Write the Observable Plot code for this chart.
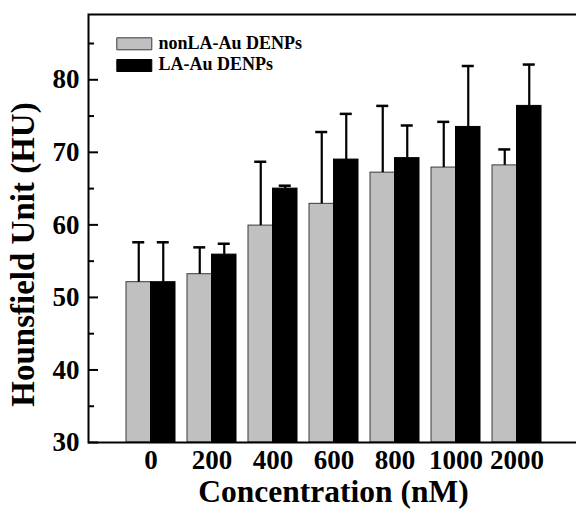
<!DOCTYPE html>
<html><head><meta charset="utf-8">
<script src="https://cdn.jsdelivr.net/npm/d3@7"></script>
<script src="https://cdn.jsdelivr.net/npm/@observablehq/plot@0.6"></script>
<style>body{margin:0;background:#fff}</style>
</head><body><div id="chart"></div>
<script>
// ---- data ----
const categories = ["0", "200", "400", "600", "800", "1000", "2000"];
const seriesNames = ["nonLA-Au DENPs", "LA-Au DENPs"];
const nonLA    = [52.1, 53.2, 59.9, 62.9, 67.2, 67.9, 68.2];
const nonLAErr = [5.5, 3.7, 8.8, 9.9, 9.2, 6.3, 2.2];
const LA       = [52.1, 55.9, 65.0, 69.0, 69.2, 73.5, 76.4];
const LAErr    = [5.5, 1.5, 0.4, 6.3, 4.5, 8.4, 5.7];
const yDomain = [30, 89];
const majorTicks = [30, 40, 50, 60, 70, 80];
const minorTicks = [35, 45, 55, 65, 75, 85];
const xLabel = "Concentration (nM)";
const yLabel = "Hounsfield Unit (HU)";
const colors = ["#c0c0c0", "#000000"];

// ---- layout / style ----
const font = "'Liberation Serif','Times New Roman',serif";
const W = 576, H = 510, mL = 88, mR = -2, mT = 14, mB = 68;
const plotW = W - mL - mR;
const pInner = 0.2, pOuter = 0.6;
const step = plotW / (categories.length - pInner + 2 * pOuter);
const bw = step * (1 - pInner);
const half = bw / 2, q = bw / 4, capHalf = 6;

const rows = categories.map((c, i) => ({c, v1: nonLA[i], e1: nonLAErr[i], v2: LA[i], e2: LAErr[i]}));

const swatch = {draw(ctx) { ctx.moveTo(-17.5, -6); ctx.lineTo(17.5, -6); ctx.lineTo(17.5, 6); ctx.lineTo(-17.5, 6); ctx.closePath(); }};

const legendMarks = seriesNames.flatMap((name, i) => [
  Plot.dot([name], {x: null, y: null, frameAnchor: "top-left", dx: 45.8, dy: 29.3 + i * 21.7,
    symbol: swatch, r: 5, fill: colors[i], stroke: i === 0 ? "#3a3a3a" : "#000", strokeWidth: 1}),
  Plot.text([name], {x: null, y: null, text: d => d, frameAnchor: "top-left", dx: 70, dy: 28.5 + i * 21.7,
    textAnchor: "start", lineAnchor: "middle", fontSize: 18, fontWeight: "bold", fill: "#000"})
]);

const chart = Plot.plot({
  width: W, height: H,
  marginLeft: mL, marginRight: mR, marginTop: mT, marginBottom: mB,
  style: {fontFamily: font, fontWeight: "bold", color: "#000", background: "#fff"},
  x: {type: "band", domain: categories, paddingInner: pInner, paddingOuter: pOuter, align: 0.5},
  y: {domain: yDomain},
  marks: [
    Plot.barY(rows, {x: "c", y1: yDomain[0], y2: "v1", fill: colors[0], stroke: "#3a3a3a", strokeWidth: 1, insetRight: half}),
    Plot.barY(rows, {x: "c", y1: yDomain[0], y2: "v2", fill: colors[1], stroke: "#000", strokeWidth: 1, insetLeft: half}),
    Plot.ruleX(rows, {x: "c", y1: "v1", y2: d => d.v1 + d.e1, dx: -q, stroke: "#000", strokeWidth: 2.2}),
    Plot.ruleX(rows, {x: "c", y1: "v2", y2: d => d.v2 + d.e2, dx: q, stroke: "#000", strokeWidth: 2.2}),
    Plot.tickY(rows, {x: "c", y: d => d.v1 + d.e1, insetLeft: q - capHalf, insetRight: bw - q - capHalf, stroke: "#000", strokeWidth: 2.5}),
    Plot.tickY(rows, {x: "c", y: d => d.v2 + d.e2, insetLeft: bw - q - capHalf, insetRight: q - capHalf, stroke: "#000", strokeWidth: 2.5}),
    Plot.tickY(majorTicks, {y: d => d, insetRight: plotW - 10, stroke: "#000", strokeWidth: 2}),
    Plot.tickY(minorTicks, {y: d => d, insetRight: plotW - 6, stroke: "#000", strokeWidth: 2}),
    Plot.axisY({ticks: majorTicks, tickSize: 0, tickPadding: 9, fontSize: 27, fontWeight: "bold", label: null, tickFormat: d => String(d)}),
    Plot.axisX({tickSize: 0, tickPadding: 7, fontSize: 27, fontWeight: "bold", label: null}),
    Plot.frame({stroke: "#000", strokeWidth: 2}),
    Plot.text([xLabel], {x: null, y: null, text: d => d, frameAnchor: "bottom", dy: 49, textAnchor: "middle", lineAnchor: "middle", fontSize: 31.5, fontWeight: "bold", fill: "#000"}),
    Plot.text([yLabel], {x: null, y: null, text: d => d, frameAnchor: "left", dx: -65.5, dy: 26, rotate: -90, textAnchor: "middle", lineAnchor: "middle", fontSize: 33, fontWeight: "bold", fill: "#000"}),
    ...legendMarks
  ]
});
document.getElementById("chart").appendChild(chart);
</script>
</body></html>
